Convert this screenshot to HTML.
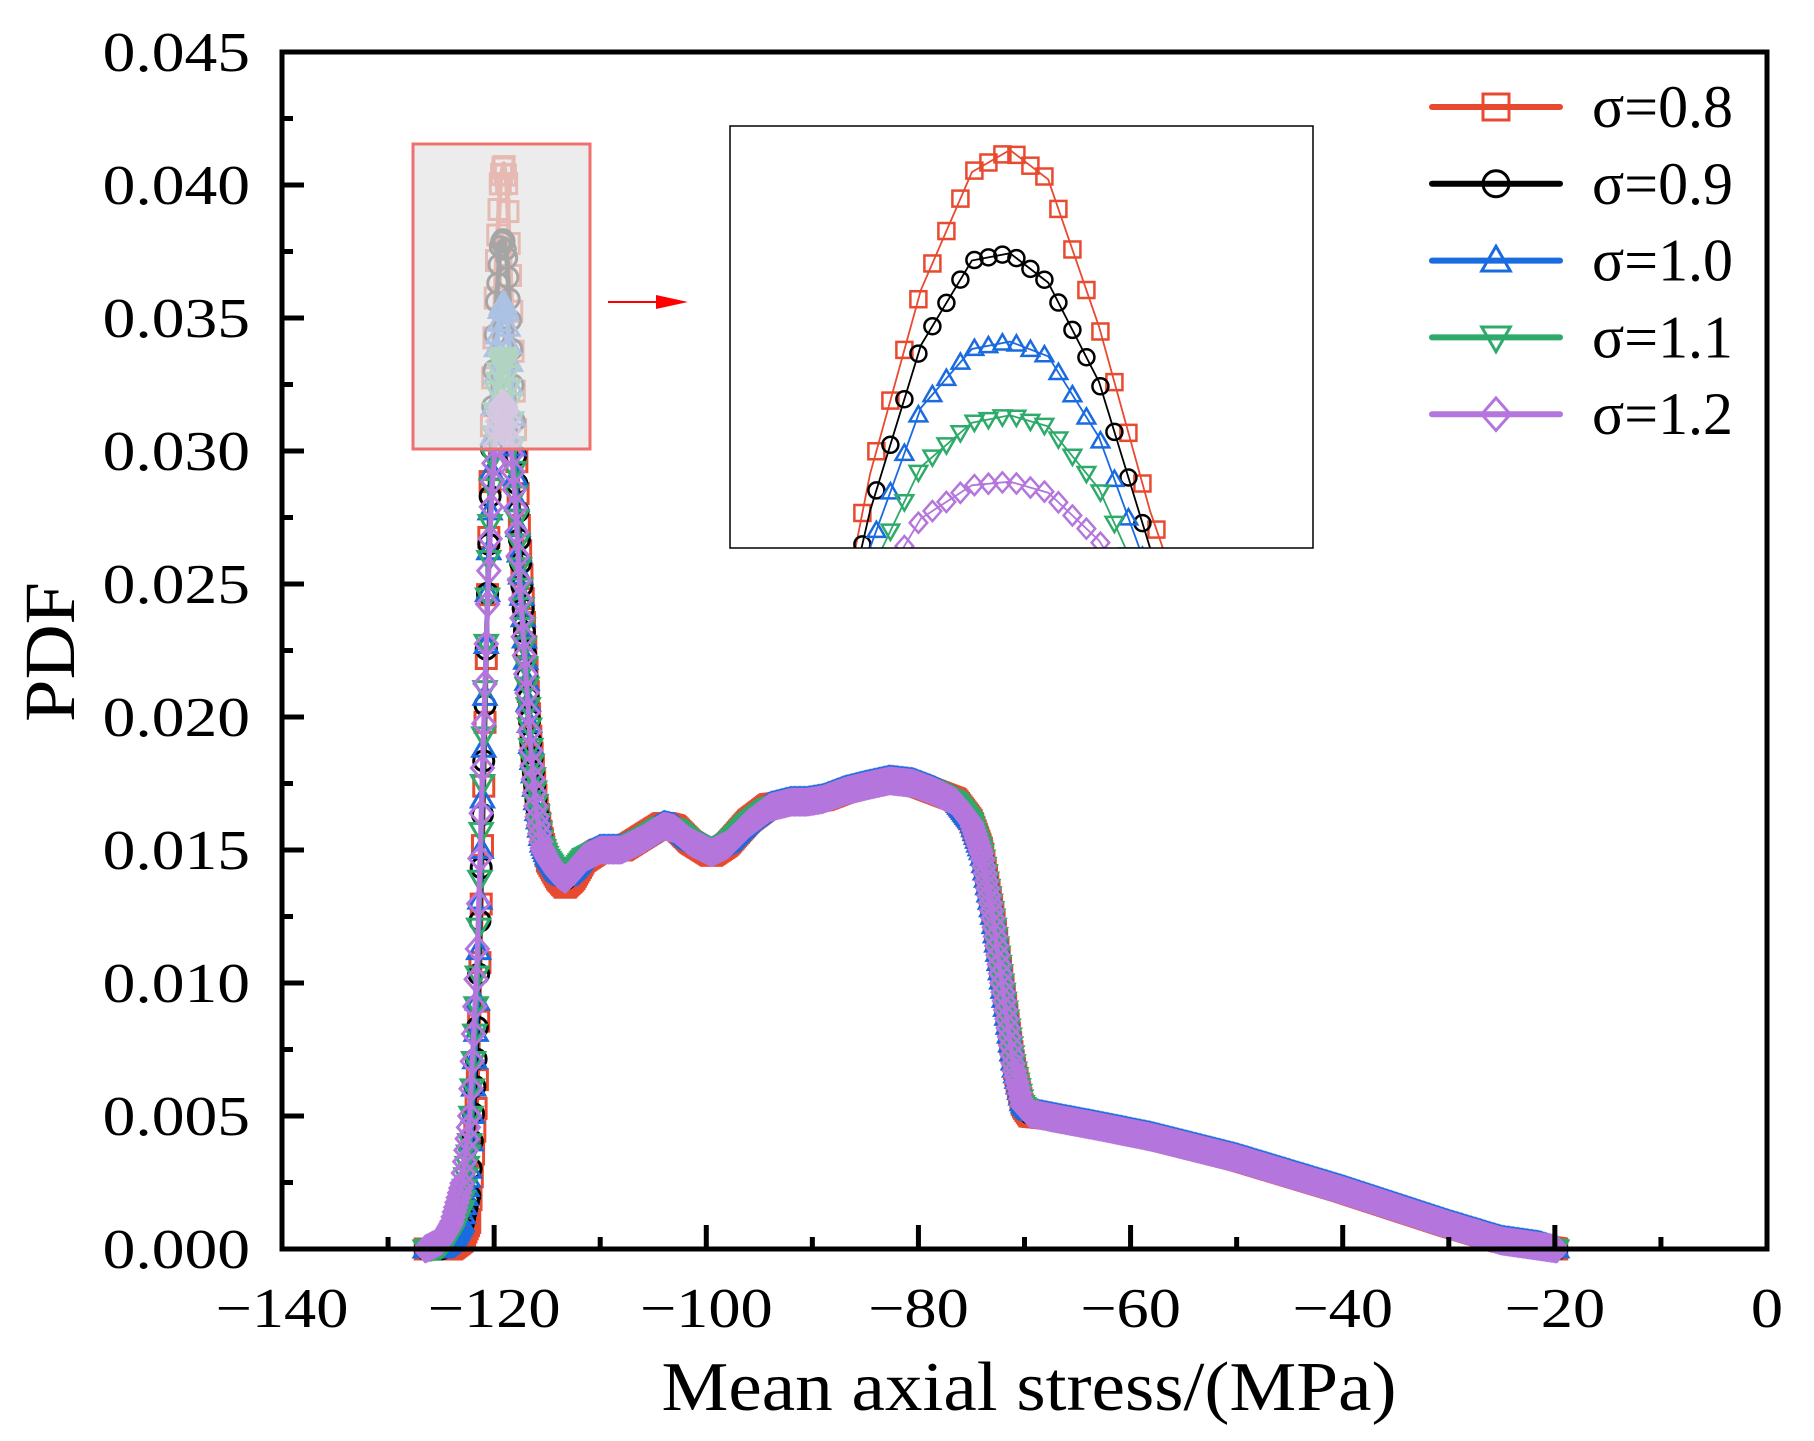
<!DOCTYPE html>
<html><head><meta charset="utf-8"><style>
html,body{margin:0;padding:0;background:#fff;overflow:hidden;width:1814px;height:1441px;}
svg{display:block;font-family:"Liberation Serif",serif;}
</style></head><body>
<svg id="chart" width="1814" height="1441" viewBox="0 0 1814 1441">
<g id="plot"></g>
<g id="axes"></g>
<g id="inset"></g>
<g id="legend"></g>
</svg>
<script>
const xs=[-126.5,-125,-124,-123,-122.3,-121.6,-121.0,-120.6,-120.2,-119.8,-119.4,-119.1,-118.8,-118.4,-118.0,-117.6,-117.0,-116.5,-116,-115.5,-115,-114,-113.3,-112.5,-111.5,-110,-108,-106,-104,-103,-101.5,-99.5,-98,-96,-94,-92,-90.5,-89,-87,-85,-82.7,-80.5,-78.5,-76.5,-75,-74,-73,-72,-71,-70.2,-69.5,-67,-63,-58,-50,-40,-30,-25,-21.5,-19.8];
const tailRed=[0.0146,0.0139,0.0136,0.0139,0.0146,0.0150,0.0150,0.0155,0.0160,0.0159,0.0153,0.0148,0.0152,0.0161,0.0167,0.0168,0.0168,0.0169,0.0172,0.0174,0.0176,0.0175,0.0172,0.0169,0.0161,0.0150,0.0127,0.0098,0.0069,0.0054,0.0050,0.0049,0.0046,0.0042,0.0034,0.0022,0.0009,0.0003,0.0001,0];
const tailMid=[0.0147,0.0141,0.0139,0.0142,0.0147,0.0150,0.0150,0.0154,0.0159,0.0158,0.0153,0.0149,0.0152,0.0160,0.0166,0.0168,0.0168,0.0169,0.0172,0.0174,0.0176,0.0175,0.0172,0.0168,0.0160,0.0148,0.0125,0.0096,0.0068,0.0054,0.0051,0.0049,0.0046,0.0042,0.0034,0.0022,0.0009,0.0003,0.0001,0];
const peakRed=[0,0,0,0.0003,0.001,0.006,0.017,0.025,0.032,0.037,0.0402,0.0408,0.0400,0.036,0.031,0.027,0.0225,0.019,0.0168,0.0155];
const peakBlack=[0,0,0.0002,0.0008,0.002,0.008,0.018,0.025,0.031,0.0355,0.0378,0.0380,0.0372,0.0345,0.030,0.0265,0.0222,0.0188,0.0167,0.0154];
const peakBlue=[0,0,0.0003,0.001,0.003,0.009,0.0185,0.025,0.030,0.0338,0.0354,0.0356,0.0352,0.033,0.0292,0.026,0.022,0.0187,0.0166,0.0153];
const peakGreen=[0,0.0001,0.0005,0.0015,0.004,0.010,0.019,0.0248,0.0293,0.0322,0.0334,0.0336,0.0333,0.0316,0.0285,0.0255,0.0218,0.0186,0.0165,0.0152];
const peakPurple=[0,0.0003,0.001,0.0025,0.005,0.011,0.0195,0.0245,0.0285,0.0308,0.0317,0.0318,0.0315,0.0302,0.028,0.025,0.0215,0.0185,0.0164,0.0151];
const seriesNames=["σ=0.8","σ=0.9","σ=1.0","σ=1.1","σ=1.2"];
const xTicks=[-140,-120,-100,-80,-60,-40,-20,0];
const xTickLabels=["−140","−120","−100","−80","−60","−40","−20","0"];
const yTicks=[0,0.005,0.01,0.015,0.02,0.025,0.03,0.035,0.04,0.045];
const yTickLabels=["0.000","0.005","0.010","0.015","0.020","0.025","0.030","0.035","0.040","0.045"];

const NS="http://www.w3.org/2000/svg";
function mk(tag,attrs,parent){const e=document.createElementNS(NS,tag);for(const k in attrs)e.setAttribute(k,attrs[k]);if(parent)parent.appendChild(e);return e;}
function widen(t,f){const w=t.getComputedTextLength();t.setAttribute("textLength",(w*f).toFixed(1));t.setAttribute("lengthAdjust","spacingAndGlyphs");}
const L=282,R=1767,T=52,B=1249;
const X=v=>L+(v+140)/140*(R-L);
const Y=v=>B-v/0.045*(B-T);
const ys=[peakRed.concat(tailRed),peakBlack.concat(tailMid),peakBlue.concat(tailMid.map(v=>v?v+0.0001:0)),peakGreen.concat(tailMid),peakPurple.concat(tailMid)];
const colors=["#e84a30","#000000","#1a6ae0","#2eaa6a","#b476dc"];
const shapes=["square","circle","up","down","diamond"];

function marker(g,type,cx,cy,s,color,sw){
  const h=s/2;let e;
  if(type==="square")e=mk("rect",{x:cx-h,y:cy-h,width:s,height:s},g);
  else if(type==="circle")e=mk("circle",{cx:cx,cy:cy,r:h},g);
  else if(type==="up")e=mk("polygon",{points:`${cx},${cy-h*1.1} ${cx+h*1.1},${cy+h*0.8} ${cx-h*1.1},${cy+h*0.8}`},g);
  else if(type==="down")e=mk("polygon",{points:`${cx},${cy+h*1.1} ${cx+h*1.1},${cy-h*0.8} ${cx-h*1.1},${cy-h*0.8}`},g);
  else e=mk("polygon",{points:`${cx},${cy-h*1.25} ${cx+h*1.1},${cy} ${cx},${cy+h*1.25} ${cx-h*1.1},${cy}`},g);
  e.setAttribute("fill","none");e.setAttribute("stroke",color);e.setAttribute("stroke-width",sw);
  return e;
}
function interp(xa,ya,x){for(let i=0;i<xa.length-1;i++){if(x>=xa[i]&&x<=xa[i+1]){const t=(x-xa[i])/(xa[i+1]-xa[i]);return ya[i]+t*(ya[i+1]-ya[i]);}}return null;}

const plot=document.getElementById("plot");
ys.forEach((yarr,si)=>{
  const g=mk("g",{},plot);
  
  
  const pts=xs.map((x,i)=>X(x).toFixed(1)+","+Y(yarr[i]).toFixed(1)).join(" ");
  const line=mk("polyline",{points:pts,fill:"none",stroke:colors[si],"stroke-width":5,"stroke-linejoin":"round"},g);
  
  
  for(let x=xs[0];x<=xs[xs.length-1];x+=0.12){
    const y=interp(xs,yarr,x);if(y===null)continue;
    marker(g,shapes[si],X(x),Y(y),20,colors[si],3);
  }
});
const zb=mk("rect",{x:413,y:144,width:177,height:305,fill:"#e4e4e4","fill-opacity":0.72,stroke:"#f07070","stroke-width":3},plot);


const arr=mk("g",{},plot);


mk("line",{x1:608,y1:302,x2:668,y2:302,stroke:"#ff0000","stroke-width":2},arr);
mk("polygon",{points:"656,295 688,302 656,309",fill:"#ff0000"},arr);

const ax=document.getElementById("axes");
const frame=mk("rect",{x:L,y:T,width:R-L,height:B-T,fill:"none",stroke:"#000","stroke-width":5},ax);


xTicks.forEach((v,i)=>{
  mk("line",{x1:X(v),y1:B,x2:X(v),y2:B-24,stroke:"#000","stroke-width":5},ax);
  if(i<xTicks.length-1)mk("line",{x1:X(v+10),y1:B,x2:X(v+10),y2:B-12,stroke:"#000","stroke-width":5},ax);
  const t=mk("text",{x:X(v),y:1327,"font-size":56,"text-anchor":"middle"},ax);
  t.textContent=xTickLabels[i];
  
  
  widen(t,1.15);
});
yTicks.forEach((v,i)=>{
  mk("line",{x1:L,y1:Y(v),x2:L+22,y2:Y(v),stroke:"#000","stroke-width":5},ax);
  if(i<yTicks.length-1)mk("line",{x1:L,y1:Y(v+0.0025),x2:L+11,y2:Y(v+0.0025),stroke:"#000","stroke-width":5},ax);
  const t=mk("text",{x:250,y:Y(v)+19,"font-size":56,"text-anchor":"end"},ax);
  t.textContent=yTickLabels[i];
  
  
  widen(t,1.17);
});
const xt=mk("text",{x:1029,y:1410,"font-size":70,"text-anchor":"middle",textLength:735,lengthAdjust:"spacingAndGlyphs"},ax);
xt.textContent="Mean axial stress/(MPa)";


const yt=mk("text",{x:0,y:0,"font-size":72,"text-anchor":"middle",textLength:140,lengthAdjust:"spacingAndGlyphs",transform:"translate(74,652) rotate(-90)"},ax);
yt.textContent="PDF";



const ins=document.getElementById("inset");
const IL=730,IR=1313,IT=126,IB=548;
const ix0=-121.3,ix1=-116.72,iy0=0.0300,iy1=0.04145;
const IX=v=>IL+(v-ix0)/(ix1-ix0)*(IR-IL);
const IY=v=>IB-(v-iy0)/(iy1-iy0)*(IB-IT);
mk("rect",{x:IL,y:IT,width:IR-IL,height:IB-IT,fill:"#fff"},ins);
mk("clipPath",{id:"ic"},ins);
mk("rect",{x:IL,y:IT,width:IR-IL,height:IB-IT},document.getElementById("ic"));
const ig=mk("g",{"clip-path":"url(#ic)"},ins);
ys.forEach((yarr,si)=>{
  const g=mk("g",{},ig);
  
  
  const pts=xs.map((x,i)=>IX(x).toFixed(1)+","+IY(yarr[i]).toFixed(1)).join(" ");
  mk("polyline",{points:pts,fill:"none",stroke:colors[si],"stroke-width":1.8},g);
  for(let x=ix0-0.5;x<=ix1+0.5;x+=0.11){
    const y=interp(xs,yarr,x);if(y===null)continue;
    marker(g,shapes[si],IX(x),IY(y),16,colors[si],2.5);
  }
});
const iframe=mk("rect",{x:IL,y:IT,width:IR-IL,height:IB-IT,fill:"none",stroke:"#000","stroke-width":1.5},ins);



const lg=document.getElementById("legend");
seriesNames.forEach((n,i)=>{
  const y=107+i*76.8;
  const g=mk("g",{},lg);
  
  
  mk("line",{x1:1432,y1:y,x2:1560,y2:y,stroke:colors[i],"stroke-width":6,"stroke-linecap":"round"},g);
  marker(g,shapes[i],1496,y,26,colors[i],3);
  const t=mk("text",{x:1592,y:y+20,"font-size":60,textLength:141,lengthAdjust:"spacingAndGlyphs"},g);
  t.textContent=n;
});
</script>
</body></html>
